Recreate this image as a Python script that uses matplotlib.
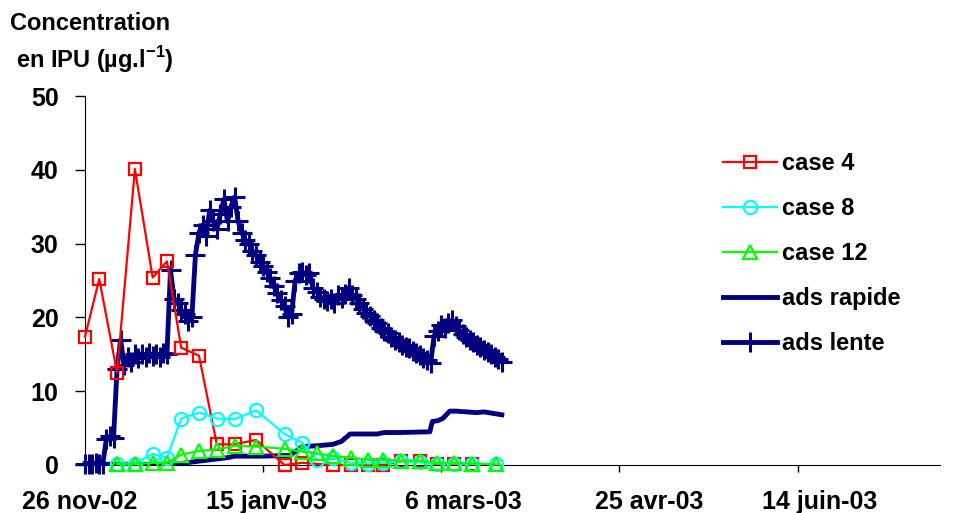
import matplotlib.pyplot as plt
from matplotlib.transforms import ScaledTranslation

plt.rcParams['font.family'] = ['Liberation Sans', 'DejaVu Sans']
plt.rcParams['font.weight'] = 'bold'
plt.rcParams['mathtext.fontset'] = 'custom'
plt.rcParams['mathtext.rm'] = 'Liberation Sans:bold'
plt.rcParams['mathtext.bf'] = 'Liberation Sans:bold'

# days counted from 26 nov 2002
tick_days = [0, 50, 100, 150, 200]
tick_labels = ['26 nov-02', '15 janv-03', '6 mars-03', '25 avr-03', '14 juin-03']

case4_days = [0, 4, 9, 14, 19, 23, 27, 32, 37, 42, 48, 56, 61,
              69.7, 74.8, 79.5, 83.7, 88.8, 94, 98.7, 103.5, 108.5]
case4_vals = [17.4, 25.2, 12.5, 40.1, 25.4, 27.6, 15.9, 14.8, 2.8, 2.8, 3.4, 0.0, 0.3,
              0.0, 0.0, 0.0, 0.0, 0.5, 0.5, 0.1, 0.1, 0.1]

case8_days = [9, 14, 19, 23, 27, 32, 37, 42, 48, 56, 61, 65,
              69.7, 74.8, 79.5, 83.7, 88.8, 94, 98.7, 103.5, 108.5, 115.5]
case8_vals = [0.2, 0.2, 1.5, 1.0, 6.3, 7.1, 6.3, 6.2, 7.4, 4.2, 3.0, 0.7,
              0.9, 0.3, 0.2, 0.3, 0.5, 0.4, 0.2, 0.2, 0.2, 0.1]

case12_days = [9, 14, 19, 23, 27, 32, 37, 42, 48, 56, 61, 65,
               69.7, 74.8, 79.5, 83.7, 88.8, 94, 98.7, 103.5, 108.5, 115.5]
case12_vals = [0.1, 0.1, 0.3, 0.3, 1.4, 1.9, 2.1, 2.6, 2.5, 2.2, 1.8, 1.6,
               1.2, 1.0, 0.7, 0.7, 0.6, 0.6, 0.3, 0.3, 0.2, 0.1]

rapide_days = [0, 20, 27, 30, 35, 40, 42, 50, 57.5, 61, 65, 69.6, 72,
               74.4, 82, 84, 88.4, 96.8, 97.5, 99, 100.4, 102.4, 104, 110, 112, 117]
rapide_vals = [0.1, 0.1, 0.2, 0.4, 0.7, 1.0, 1.2, 1.2, 1.3, 2.5, 2.6, 2.8, 3.2,
               4.2, 4.2, 4.4, 4.4, 4.5, 5.9, 6.0, 6.3, 7.3, 7.3, 7.1, 7.2, 6.8]

lente_days = list(range(0, 118))
lente_vals = [0.2, 0.2, 0.1, 0.3, 0.2, 0.2, 3.5, 3.9, 3.6, 13.0,
              17.0, 13.5, 14.6, 14.0, 15.0, 14.5, 15.1, 14.6, 15.2, 14.8,
              15.0, 14.7, 15.2, 15.0, 26.4, 22.5, 22.0, 21.0, 20.5, 19.5,
              20.0, 28.5, 31.5, 32.5, 31.0, 34.5, 33.0, 32.0, 34.0, 36.0,
              33.0, 35.0, 36.3, 33.0, 31.5, 30.5, 30.0, 29.0, 28.5, 27.5,
              27.0, 26.2, 25.3, 24.2, 23.3, 22.3, 21.5, 20.0, 20.5, 25.0,
              26.0, 26.2, 25.8, 26.0, 24.0, 23.5, 22.8, 22.5, 22.2, 22.5,
              22.0, 23.0, 22.6, 23.2, 24.0, 23.0, 22.5, 22.0, 21.2, 20.6,
              20.2, 19.6, 19.2, 18.6, 18.2, 17.9, 17.4, 17.0, 16.7, 16.3,
              16.0, 15.8, 15.4, 15.2, 14.9, 14.5, 14.2, 13.8, 17.5, 18.2,
              19.0, 18.5, 19.2, 19.6, 18.8, 18.3, 17.8, 17.3, 16.9, 16.6,
              16.2, 16.0, 15.6, 15.3, 15.0, 14.7, 14.3, 14.0]

navy = '#000080'

fig = plt.figure(figsize=(9.63, 5.13), dpi=100)
ax = fig.add_axes([85 / 963, 48 / 513, 855 / 963, 369 / 513])

ax.plot(case4_days, case4_vals, color='#FF0000', lw=1.6, marker='s', ms=9,
        mfc='none', mec='#FF0000', mew=1.6, label='case 4', zorder=5, clip_on=False)
ax.plot(case8_days, case8_vals, color='#00FFFF', lw=1.6, marker='o', ms=9.5,
        mfc='none', mec='#00FFFF', mew=1.6, label='case 8', zorder=5, clip_on=False)
ax.plot(case12_days, case12_vals, color='#00FF00', lw=1.6, marker='^', ms=9.5,
        mfc='none', mec='#00FF00', mew=1.6, label='case 12', zorder=5, clip_on=False)
ax.plot(rapide_days, rapide_vals, color=navy, lw=3.5, label='ads rapide', zorder=3)
ax.plot(lente_days, lente_vals, color=navy, lw=3.5, marker='+', ms=14, mew=2.2,
        label='ads lente', zorder=4, clip_on=False)

ax.set_xlim(0, 240)
ax.set_ylim(0, 50)
ax.set_yticks([0, 10, 20, 30, 40, 50])
ax.set_xticks(tick_days)
ax.set_xticklabels(tick_labels)
ax.tick_params(axis='y', direction='out', length=7, width=1, labelsize=18, pad=12)
ax.tick_params(axis='x', direction='out', length=5, width=1, labelsize=18, pad=13)
for lab in ax.get_xticklabels() + ax.get_yticklabels():
    lab.set_fontweight('bold')

# Excel places the date labels slightly off their ticks
label_shift_px = [-5, 3, 22, 30, 22]
for lab, dx in zip(ax.get_xticklabels(), label_shift_px):
    lab.set_transform(lab.get_transform() + ScaledTranslation(dx / 100, 0, fig.dpi_scale_trans))

ax.spines['top'].set_visible(False)
ax.spines['right'].set_visible(False)

fig.text(10 / 963, 1 - 24 / 513, 'Concentration', fontsize=17, fontweight='bold', va='center')
fig.text(16 / 963, 1 - 60 / 513, r'en IPU (µg.l$^{-1}$)', fontsize=17, fontweight='bold',
         va='center')

ax.legend(loc='upper left', bbox_to_anchor=(723 / 963, 1 - 152 / 513),
          bbox_transform=fig.transFigure, frameon=False, handlelength=2.3,
          handletextpad=0.2, labelspacing=0.93, borderpad=0, borderaxespad=0,
          prop={'weight': 'bold', 'size': 17})

fig.savefig('out.png', dpi=100)
